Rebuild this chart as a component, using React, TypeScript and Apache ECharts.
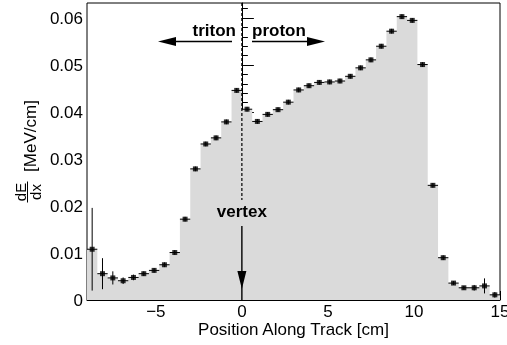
import { useEffect, useRef } from 'react';
import * as echarts from 'echarts';

// ---- data ----
const binCenters = [
  -8.7, -8.1, -7.5, -6.9, -6.3, -5.7, -5.1, -4.5, -3.9, -3.3,
  -2.7, -2.1, -1.5, -0.9, -0.3, 0.3, 0.9, 1.5, 2.1, 2.7,
  3.3, 3.9, 4.5, 5.1, 5.7, 6.3, 6.9, 7.5, 8.1, 8.7,
  9.3, 9.9, 10.5, 11.1, 11.7, 12.3, 12.9, 13.5, 14.1, 14.7,
];
const dEdx = [
  0.0108, 0.0056, 0.0047, 0.0041, 0.0048, 0.0056, 0.0063, 0.0075, 0.0101, 0.0172,
  0.0279, 0.0332, 0.0345, 0.0379, 0.0446, 0.0406, 0.038, 0.0395, 0.0405, 0.0421,
  0.0447, 0.0456, 0.0463, 0.0464, 0.0466, 0.0476, 0.0494, 0.0511, 0.054, 0.0572,
  0.0603, 0.0595, 0.0501, 0.0244, 0.009, 0.0036, 0.0026, 0.0026, 0.003, 0.0011,
];
const dEdxErr = [
  0.0088, 0.0033, 0.0014, 0.0007, 0.0006, 0.0005, 0.0005, 0.0005, 0.0005, 0.0005,
  0.0005, 0.0005, 0.0005, 0.0005, 0.0005, 0.0005, 0.0005, 0.0005, 0.0005, 0.0005,
  0.0005, 0.0005, 0.0005, 0.0005, 0.0005, 0.0005, 0.0005, 0.0005, 0.0005, 0.0005,
  0.0005, 0.0005, 0.0005, 0.0005, 0.0005, 0.0004, 0.0004, 0.0006, 0.0016, 0.0006,
];
const binWidth = 0.6;
const xMin = -9;
const xMax = 15;
const yMax = 0.0632;
const xMajorTicks = [-5, 0, 5, 10, 15];
const xMinorTicks = [-9, -8, -7, -6, -5, -4, -3, -2, -1, 0, 1, 2, 3, 4, 5, 6, 7, 8, 9, 10, 11, 12, 13, 14, 15];
const yMajorTicks = [0, 0.01, 0.02, 0.03, 0.04, 0.05, 0.06];
const yMinorTicks = [
  0, 0.002, 0.004, 0.006, 0.008, 0.01, 0.012, 0.014, 0.016, 0.018, 0.02, 0.022, 0.024, 0.026, 0.028,
  0.03, 0.032, 0.034, 0.036, 0.038, 0.04, 0.042, 0.044, 0.046, 0.048, 0.05, 0.052, 0.054, 0.056,
  0.058, 0.06, 0.062,
];
const xTitle = 'Position Along Track [cm]';
const yTitleUnit = '[MeV/cm]';
const yTitleNum = 'dE';
const yTitleDen = 'dx';
const leftLabel = 'triton';
const rightLabel = 'proton';
const vertexLabel = 'vertex';

const FONT = "'Liberation Sans', Arial, Helvetica, sans-serif";

export default function App() {
  const ref = useRef<HTMLDivElement>(null);

  useEffect(() => {
    if (!ref.current) return;
    const chart = echarts.init(ref.current, undefined, { renderer: 'svg' });

    const edges = binCenters.map((c) => c - binWidth / 2);
    const stepData = edges.map((e, i) => [e, dEdx[i]]);
    stepData.push([binCenters[binCenters.length - 1] + binWidth / 2, dEdx[dEdx.length - 1]]);

    const pointData = binCenters.map((c, i) => [c, dEdx[i], dEdxErr[i]]);

    const axisLabelStyle = { color: '#000', fontSize: 17, fontFamily: FONT };

    const option: any = {
      animation: false,
      grid: {
        left: 87, top: 3, width: 413, height: 297, show: true, borderColor: '#000', borderWidth: 1,
        backgroundColor: 'transparent', containLabel: false, outerBoundsMode: 'none',
      },
      xAxis: [
        {
          type: 'value', min: xMin, max: xMax, position: 'bottom',
          axisLine: { show: true, lineStyle: { color: '#000', width: 1 } },
          axisTick: { show: true, inside: true, length: 4.5, customValues: xMinorTicks, lineStyle: { color: '#000', width: 1 } },
          axisLabel: { show: false },
          splitLine: { show: false },
        },
        {
          type: 'value', min: xMin, max: xMax, position: 'bottom',
          axisLine: { show: false },
          axisTick: { show: true, inside: true, length: 9, customValues: xMajorTicks, lineStyle: { color: '#000', width: 1 } },
          axisLabel: {
            ...axisLabelStyle, margin: 5, lineHeight: 13, customValues: xMajorTicks,
            alignMinLabel: 'center', alignMaxLabel: 'center', hideOverlap: false,
            formatter: (v: number) => (v < 0 ? '\u2212' + Math.abs(v) : String(v)),
          },
          splitLine: { show: false },
        },
      ],
      yAxis: [
        {
          type: 'value', min: 0, max: yMax, position: 'left',
          axisLine: { show: true, lineStyle: { color: '#000', width: 1 } },
          axisTick: { show: true, inside: true, length: 6, customValues: yMinorTicks, lineStyle: { color: '#000', width: 1 } },
          axisLabel: { show: false },
          splitLine: { show: false },
        },
        {
          type: 'value', min: 0, max: yMax, position: 'left',
          axisLine: { show: false },
          axisTick: { show: true, inside: true, length: 12, customValues: yMajorTicks, lineStyle: { color: '#000', width: 1 } },
          axisLabel: {
            ...axisLabelStyle, margin: 4, customValues: yMajorTicks,
            formatter: (v: number) => (v === 0 ? '0' : v.toFixed(2)),
          },
          splitLine: { show: false },
        },
      ],
      series: [
        {
          type: 'line', xAxisIndex: 0, yAxisIndex: 0,
          data: stepData, step: 'end', showSymbol: false, symbol: 'none',
          lineStyle: { width: 0, opacity: 0 },
          areaStyle: { color: '#dadada', opacity: 1 },
          z: 1, silent: true,
        },
        {
          type: 'custom', xAxisIndex: 0, yAxisIndex: 0,
          data: pointData, encode: { x: 0, y: 1 }, clip: true, z: 3,
          renderItem: (_p: any, api: any) => {
            const c = api.value(0), v = api.value(1), e = api.value(2);
            const l = api.coord([c - binWidth / 2, v]);
            const r = api.coord([c + binWidth / 2, v]);
            const t = api.coord([c, v + e]);
            const b = api.coord([c, Math.max(0, v - e)]);
            return {
              type: 'group',
              children: [
                { type: 'line', shape: { x1: l[0], y1: l[1], x2: r[0], y2: r[1] }, style: { stroke: '#000', lineWidth: 1 } },
                { type: 'line', shape: { x1: t[0], y1: t[1], x2: b[0], y2: b[1] }, style: { stroke: '#000', lineWidth: 1 } },
              ],
            };
          },
        },
        {
          type: 'scatter', xAxisIndex: 0, yAxisIndex: 0,
          data: pointData.map((d) => [d[0], d[1]]),
          symbol: 'rect', symbolSize: 5, itemStyle: { color: '#000' }, z: 4,
        },
      ],
    };
    chart.setOption(option);

    const [x0, yTop] = chart.convertToPixel({ xAxisIndex: 0, yAxisIndex: 0 }, [0, yMax]) as number[];
    const yBot = (chart.convertToPixel({ xAxisIndex: 0, yAxisIndex: 0 }, [0, 0]) as number[])[1];
    const boldFont = `bold 17px ${FONT}`;
    const arrowY = 41.5;
    const ah = 18, aw = 4.5;

    chart.setOption({
      graphic: [
        // y-axis title
        { type: 'text', x: 30, y: 136, rotation: Math.PI / 2, style: { text: yTitleUnit, font: `17px ${FONT}`, fill: '#000', align: 'center', verticalAlign: 'middle' } },
        { type: 'text', x: 20, y: 192, rotation: Math.PI / 2, style: { text: yTitleNum, font: `15px ${FONT}`, fill: '#000', align: 'center', verticalAlign: 'middle' } },
        { type: 'text', x: 35, y: 192, rotation: Math.PI / 2, style: { text: yTitleDen, font: `15px ${FONT}`, fill: '#000', align: 'center', verticalAlign: 'middle' } },
        { type: 'line', shape: { x1: 27.5, y1: 181.5, x2: 27.5, y2: 202.5 }, style: { stroke: '#000', lineWidth: 1 } },
        // x-axis title
        { type: 'text', x: 293.5, y: 329, style: { text: xTitle, font: `17px ${FONT}`, lineHeight: 14, fill: '#000', align: 'center', verticalAlign: 'middle' } },
        // vertex dashed line
        { type: 'line', shape: { x1: x0, y1: yTop, x2: x0, y2: 200 }, style: { stroke: '#000', lineWidth: 1.2, lineDash: [3, 2] }, z: 10 },
        // triton / proton
        { type: 'text', x: 236, y: 30.5, style: { text: leftLabel, font: boldFont, fill: '#000', align: 'right', verticalAlign: 'middle' }, z: 10 },
        { type: 'text', x: 252, y: 30.5, style: { text: rightLabel, font: boldFont, fill: '#000', align: 'left', verticalAlign: 'middle' }, z: 10 },
        { type: 'line', shape: { x1: 232, y1: arrowY, x2: 158 + ah - 1, y2: arrowY }, style: { stroke: '#000', lineWidth: 1.4 }, z: 10 },
        { type: 'polygon', shape: { points: [[158, arrowY], [158 + ah, arrowY - aw], [158 + ah, arrowY + aw]] }, style: { fill: '#000' }, z: 10 },
        { type: 'line', shape: { x1: 252, y1: arrowY, x2: 325 - ah + 1, y2: arrowY }, style: { stroke: '#000', lineWidth: 1.4 }, z: 10 },
        { type: 'polygon', shape: { points: [[325, arrowY], [325 - ah, arrowY - aw], [325 - ah, arrowY + aw]] }, style: { fill: '#000' }, z: 10 },
        // vertex label and arrow
        { type: 'text', x: x0, y: 211, style: { text: vertexLabel, font: boldFont, fill: '#000', align: 'center', verticalAlign: 'middle' }, z: 10 },
        { type: 'line', shape: { x1: x0, y1: 226, x2: x0, y2: yBot }, style: { stroke: '#000', lineWidth: 1.4 }, z: 10 },
        { type: 'polygon', shape: { points: [[x0, 289], [x0 - aw, 289 - ah], [x0 + aw, 289 - ah]] }, style: { fill: '#000' }, z: 10 },
      ],
    });

    return () => chart.dispose();
  }, []);

  return <div ref={ref} style={{ position: 'fixed', left: 0, top: 0, width: 507, height: 345 }} />;
}
